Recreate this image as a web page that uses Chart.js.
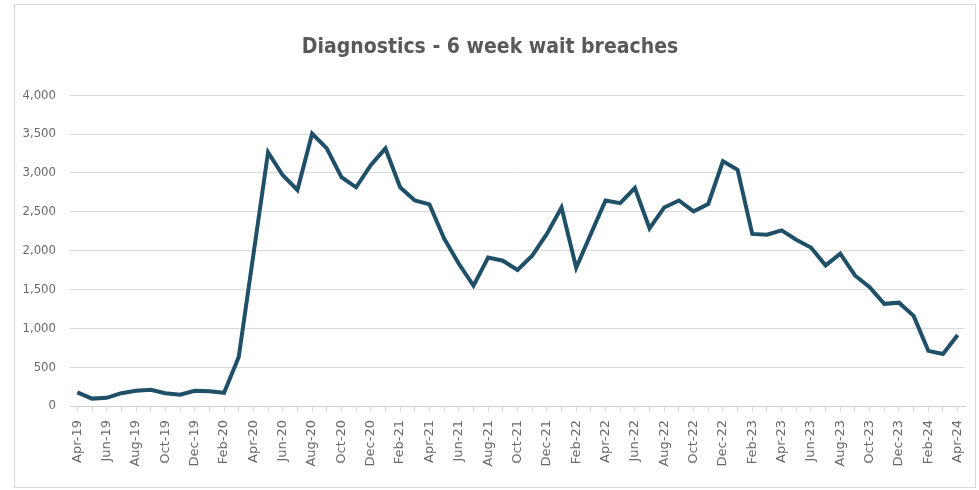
<!DOCTYPE html>
<html>
<head>
<meta charset="utf-8">
<script src="https://cdn.jsdelivr.net/npm/chart.js@4"></script>
<style>
    body { margin: 0; background: #ffffff; }
    #wrap {
        position: absolute; left: 14px; top: 4px;
        width: 962px; height: 484px;
        border: 1px solid #d9d9d9; box-sizing: border-box;
    }
</style>
</head>
<body>
<div id="wrap"><canvas id="breachChart"></canvas></div>
<script>
// monthly breaches, Apr-19 .. Apr-24
var months = [
    'Apr-19','May-19','Jun-19','Jul-19','Aug-19','Sep-19','Oct-19','Nov-19','Dec-19','Jan-20','Feb-20','Mar-20',
    'Apr-20','May-20','Jun-20','Jul-20','Aug-20','Sep-20','Oct-20','Nov-20','Dec-20','Jan-21','Feb-21','Mar-21',
    'Apr-21','May-21','Jun-21','Jul-21','Aug-21','Sep-21','Oct-21','Nov-21','Dec-21','Jan-22','Feb-22','Mar-22',
    'Apr-22','May-22','Jun-22','Jul-22','Aug-22','Sep-22','Oct-22','Nov-22','Dec-22','Jan-23','Feb-23','Mar-23',
    'Apr-23','May-23','Jun-23','Jul-23','Aug-23','Sep-23','Oct-23','Nov-23','Dec-23','Jan-24','Feb-24','Mar-24',
    'Apr-24'
];
var breaches = [
    175, 95, 105, 165, 195, 210, 165, 145, 195, 190, 170, 630,
    1950, 3265, 2970, 2780, 3505, 3315, 2945, 2815, 3100, 3315, 2815, 2645,
    2595, 2155, 1830, 1550, 1910, 1870, 1750, 1935, 2215, 2555, 1780, 2215,
    2645, 2610, 2805, 2285, 2555, 2645, 2505, 2600, 3150, 3040, 2215, 2205,
    2260, 2140, 2040, 1810, 1960, 1680, 1530, 1315, 1330, 1160, 710, 670,
    915
];
var chartTitle = 'Diagnostics - 6 week wait breaches';

var narrow = "'Liberation Sans Narrow', 'DejaVu Sans Condensed', 'Roboto', sans-serif";
var grey = '#595959';

var ctx = document.getElementById('breachChart').getContext('2d');
var breachChart = new Chart(ctx, {
    type: 'line',
    data: {
        labels: months,
        datasets: [{
            label: 'Breaches',
            data: breaches,
            borderColor: '#1f5068',
            borderWidth: 4,
            pointRadius: 0,
            tension: 0,
            fill: false
        }]
    },
    options: {
        responsive: true,
        maintainAspectRatio: false,
        animation: false,
        layout: { padding: { left: 0, right: 10, top: 0, bottom: 4 } },
        plugins: {
            legend: { display: false },
            tooltip: { enabled: false },
            title: {
                display: true,
                text: chartTitle,
                color: grey,
                font: { family: narrow, size: 21, weight: 'bold' },
                padding: { top: 30, bottom: 35 }
            }
        },
        scales: {
            x: {
                offset: true,
                grid: {
                    drawOnChartArea: false,
                    drawTicks: true,
                    tickLength: 6,
                    color: '#d9d9d9'
                },
                border: { color: '#d0d0d0' },
                ticks: {
                    autoSkip: false,
                    minRotation: 90,
                    maxRotation: 90,
                    color: '#6a6a6a',
                    padding: 8,
                    font: { family: "'DejaVu Sans', sans-serif", size: 13 },
                    callback: function(value, index) {
                        // every second month gets a label
                        return index % 2 === 0 ? this.getLabelForValue(value) : '';
                    }
                },
                afterFit: function(scale) {
                    scale.height = 77;
                    // the end labels fit inside the offset, no extra room needed
                    scale.paddingLeft = 0;
                    scale.paddingRight = 0;
                }
            },
            y: {
                min: 0,
                max: 4000,
                grid: { color: '#d9d9d9', drawTicks: false },
                border: { display: false },
                ticks: {
                    stepSize: 500,
                    color: '#6a6a6a',
                    padding: 14,
                    font: { family: narrow, size: 13 },
                    callback: function(value) { return value.toLocaleString('en-GB'); }
                },
                afterFit: function(scale) { scale.width = 55; }
            }
        }
    }
});
</script>
</body>
</html>
